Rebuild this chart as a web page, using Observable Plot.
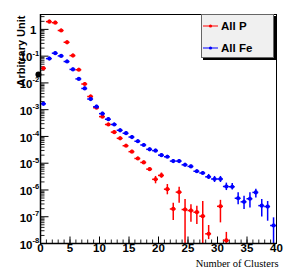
<!DOCTYPE html>
<html><head><meta charset="utf-8">
<script src="https://cdn.jsdelivr.net/npm/d3@7"></script>
<script src="https://cdn.jsdelivr.net/npm/@observablehq/plot@0.6"></script>
<style>
body{margin:0;background:#fff;}
#wrap{position:relative;width:291px;height:277px;overflow:hidden;}
#legend{position:absolute;left:201px;top:14px;width:71px;height:42px;background:#f0f0f0;border:1px solid #666;box-shadow:2px 2px 0 #000;font:bold 11.5px "Liberation Sans",Arial,sans-serif;color:#000;}
.row{position:absolute;left:1px;height:14px;display:flex;align-items:center;}
.row svg{margin-right:3px;}
</style></head>
<body><div id="wrap"></div>
<script>
// ---- data ----
const seriesNames = ["All P", "All Fe"];
const seriesColors = ["#ff0000", "#0000ff"];

const pX = [0.5,1.5,2.5,3.5,4.5,5.5,6.5,7.5,8.5,9.5,10.5,11.5,12.5,13.5,14.5,15.5,16.5,17.5,18.5,19.5,20.5,21.5,22.5,23.5,24.5,25.5,26.5,27.5,28.5,30.5,31.5];
const pY = [0.035,1.95,1.78,0.91,0.33,0.105,0.031,0.0091,0.0031,0.00118,0.00055,0.00028,0.000145,8.5e-5,4.5e-5,2.7e-5,1.5e-5,1.07e-5,6.0e-6,2.5e-6,3.5e-6,1.07e-6,1.95e-7,8.3e-7,1.86e-7,1.7e-7,1.48e-7,1.05e-7,2.3e-8,2.45e-7,1.3e-8];
// vertical error bars that are visible beyond the marker
const pErrX  = [19.5,20.5,21.5,22.5,23.5,24.5,25.5,26.5,27.5,28.5,30.5,31.5];
const pErrLo = [1.7e-6,2.75e-6,6.6e-7,7.2e-8,3.2e-7,1e-9,6.2e-8,5.1e-8,1e-9,1.4e-8,5.9e-8,1e-9];
const pErrHi = [3.2e-6,4.3e-6,1.6e-6,3.2e-7,1.26e-6,4.4e-7,2.8e-7,2.45e-7,3.7e-7,4.7e-8,4.1e-7,2.6e-8];

const feX = [0.5,1.5,2.5,3.5,4.5,5.5,6.5,7.5,8.5,9.5,10.5,11.5,12.5,13.5,14.5,15.5,16.5,17.5,18.5,19.5,20.5,21.5,22.5,23.5,24.5,25.5,26.5,27.5,28.5,29.5,30.5,31.5,32.5,33.5,34.5,35.5,36.5,37.5,38.5,39.5];
const feY = [0.00166,0.081,0.129,0.102,0.063,0.032,0.0141,0.0062,0.0025,0.00129,0.00071,0.00044,0.00028,0.00017,0.000132,9.5e-5,6.6e-5,4.8e-5,3.3e-5,2.95e-5,2.0e-5,1.74e-5,1.2e-5,1.2e-5,8.7e-6,7.6e-6,5.0e-6,4.3e-6,3.1e-6,2.57e-6,2.57e-6,1.35e-6,1.32e-6,4.9e-7,3.6e-7,4.7e-7,8.1e-7,2.6e-7,2.4e-7,4.7e-8];
const feErrX  = [28.5,29.5,30.5,31.5,32.5,33.5,34.5,35.5,36.5,37.5,38.5,39.5];
const feErrLo = [2.5e-6,1.9e-6,1.9e-6,9.5e-7,1.0e-6,2.8e-7,1.86e-7,2.1e-7,5.0e-7,9.8e-8,6.8e-8,1e-9];
const feErrHi = [3.8e-6,3.2e-6,3.2e-6,1.8e-6,1.74e-6,7.8e-7,5.8e-7,7.8e-7,1.07e-6,4.4e-7,3.7e-7,9.1e-8];

const strayX = [-0.35];
const strayY = [0.0207];

const xMajor = [0,5,10,15,20,25,30,35,40];
const xMinor = d3.range(0, 41);
const yExp = [0,-1,-2,-3,-4,-5,-6,-7,-8];
const yExpLabels = ["", "-1","-2","-3","-4","-5","-6","-7","-8"];
const yMajor = yExp.map(e => Math.pow(10, e));
const yMinor = [];
for (const e of yExp) for (let m = 2; m <= 9; m++) { const v = m * Math.pow(10, e); if (v <= 3.6) yMinor.push(v); }

// ---- build tables ----
const pData = pX.map((x, i) => ({x, y: pY[i]}));
const feData = feX.map((x, i) => ({x, y: feY[i]}));
const pErr = pErrX.map((x, i) => ({x, lo: pErrLo[i], hi: pErrHi[i]}));
const feErr = feErrX.map((x, i) => ({x, lo: feErrLo[i], hi: feErrHi[i]}));
const stray = strayX.map((x, i) => ({x, y: strayY[i]}));

const W = 291, H = 277, mL = 40, mR = 15, mT = 14, mB = 34;
const innerW = W - mL - mR, innerH = H - mT - mB;
const sans = "'Liberation Sans', Arial, Helvetica, sans-serif";

function seriesMarks(data, err, color) {
  return [
    Plot.ruleX(err, {x: "x", y1: "lo", y2: "hi", stroke: color, strokeWidth: 1.5, clip: true}),
    Plot.ruleY(data, {y: "y", x1: d => d.x - 0.5, x2: d => d.x + 0.5, stroke: color, strokeWidth: 1.5}),
    Plot.ruleX(data, {x: "x", y1: d => d.y * 0.88, y2: d => d.y / 0.88, stroke: color, strokeWidth: 1.5}),
    Plot.dot(data, {x: "x", y: "y", r: 2.1, fill: color, stroke: "none"})
  ];
}

const chart = Plot.plot({
  width: W, height: H,
  marginLeft: mL, marginRight: mR, marginTop: mT, marginBottom: mB,
  style: {background: "#fff", overflow: "visible"},
  x: {domain: [0, 40], axis: null},
  y: {type: "log", domain: [1e-8, 3.6], axis: null},
  marks: [
    Plot.ruleY(yMinor, {y: d => d, insetRight: innerW - 4.5, stroke: "#222", strokeWidth: 1}),
    Plot.ruleY(yMajor, {y: d => d, insetRight: innerW - 8.5, stroke: "#000", strokeWidth: 1}),
    Plot.ruleX(xMinor, {x: d => d, insetTop: innerH - 3.5, stroke: "#222", strokeWidth: 1}),
    Plot.ruleX(xMajor, {x: d => d, insetTop: innerH - 6.5, stroke: "#000", strokeWidth: 1}),
    ...seriesMarks(pData, pErr, seriesColors[0]),
    ...seriesMarks(feData, feErr, seriesColors[1]),
    Plot.dot(stray, {x: "x", y: "y", r: 3, fill: "#000", clip: false}),
    Plot.frame({stroke: "#000", strokeWidth: 1}),
    Plot.ruleX([0], {stroke: "#000", strokeWidth: 1.5}),
    Plot.ruleY([1e-8], {stroke: "#000", strokeWidth: 1.5}),
    // y tick labels
    Plot.text(yExp.filter(e => e === 0), {y: e => Math.pow(10, e), frameAnchor: "left", text: () => "1", textAnchor: "end", dx: -4, dy: 1, fontFamily: sans, fontWeight: "bold", fontSize: 11.5, fill: "#000"}),
    Plot.text(yExp.filter(e => e !== 0), {y: e => Math.pow(10, e), frameAnchor: "left", text: () => "10", textAnchor: "end", dx: -8, dy: 1.5, fontFamily: sans, fontWeight: "bold", fontSize: 11.5, fill: "#000"}),
    Plot.text(yExp.filter(e => e !== 0), {y: e => Math.pow(10, e), frameAnchor: "left", text: e => yExpLabels[yExp.indexOf(e)], textAnchor: "start", dx: -8, dy: -3, fontFamily: sans, fontWeight: "bold", fontSize: 7.5, fill: "#000"}),
    // x tick labels
    Plot.text(xMajor, {x: d => d, frameAnchor: "bottom", text: d => String(d), dy: 8.5, fontFamily: sans, fontWeight: "bold", fontSize: 11.5, fill: "#000"}),
    // axis titles
    Plot.text(["Arbitrary Unit"], {frameAnchor: "top-left", text: d => d, rotate: -90, textAnchor: "end", dx: -23, dy: 1, fontFamily: sans, fontWeight: "bold", fontSize: 11, fill: "#000"}),
    Plot.text(["Number of Clusters"], {frameAnchor: "bottom-right", text: d => d, textAnchor: "end", dx: 2, dy: 23, fontFamily: "'Liberation Serif', 'Times New Roman', serif", fontSize: 10.5, fill: "#000"})
  ]
});

const wrap = document.getElementById("wrap");
wrap.appendChild(chart);

// legend
const leg = document.createElement("div");
leg.id = "legend";
seriesNames.forEach((name, i) => {
  const row = document.createElement("div");
  row.className = "row";
  row.style.top = (4 + i * 22) + "px";
  row.innerHTML = `<svg width="15" height="6"><line x1="0" y1="3" x2="15" y2="3" stroke="${seriesColors[i]}" stroke-width="1"/><circle cx="7.5" cy="3" r="1.6" fill="${seriesColors[i]}"/></svg><span>${name}</span>`;
  leg.appendChild(row);
});
wrap.appendChild(leg);
</script>
</body></html>
